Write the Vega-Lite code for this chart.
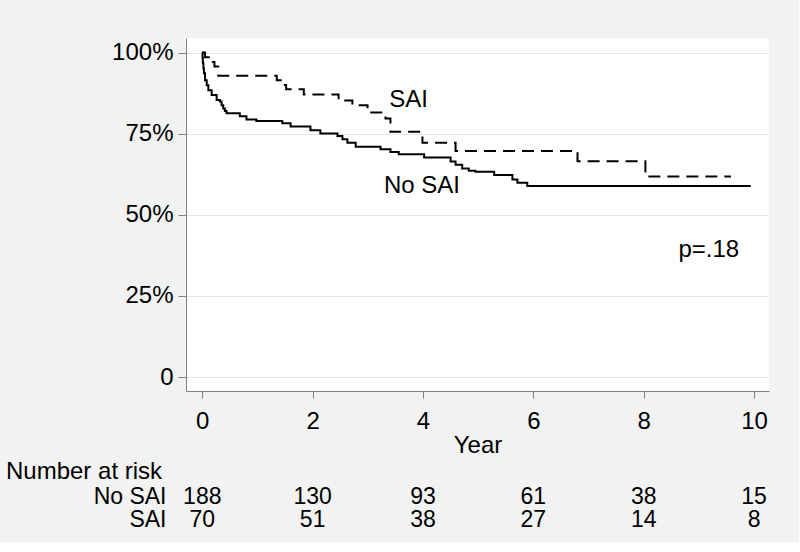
{
  "$schema": "https://vega.github.io/schema/vega-lite/v6.json",
  "background": "#f2f2f2",
  "padding": {"left": 5, "top": 38, "right": 30, "bottom": 10},
  "bounds": "flush",
  "spacing": 94,
  "config": {
    "font": "Liberation Sans",
    "view": {"stroke": null},
    "axis": {"labelFont": "Liberation Sans", "titleFont": "Liberation Sans", "labelColor": "#000", "titleColor": "#000"},
    "text": {"font": "Liberation Sans"}
  },
  "datasets": {
    "curves": [
      {"group": "No SAI", "time": 0, "surv": 1.0},
      {"group": "No SAI", "time": 0.005, "surv": 0.984},
      {"group": "No SAI", "time": 0.01, "surv": 0.968},
      {"group": "No SAI", "time": 0.02, "surv": 0.952},
      {"group": "No SAI", "time": 0.03, "surv": 0.936},
      {"group": "No SAI", "time": 0.05, "surv": 0.915},
      {"group": "No SAI", "time": 0.08, "surv": 0.899},
      {"group": "No SAI", "time": 0.11, "surv": 0.884},
      {"group": "No SAI", "time": 0.17, "surv": 0.869},
      {"group": "No SAI", "time": 0.26, "surv": 0.854},
      {"group": "No SAI", "time": 0.32, "surv": 0.849},
      {"group": "No SAI", "time": 0.35, "surv": 0.838},
      {"group": "No SAI", "time": 0.38, "surv": 0.828},
      {"group": "No SAI", "time": 0.41, "surv": 0.82},
      {"group": "No SAI", "time": 0.44, "surv": 0.813},
      {"group": "No SAI", "time": 0.68, "surv": 0.804},
      {"group": "No SAI", "time": 0.8, "surv": 0.794},
      {"group": "No SAI", "time": 0.98, "surv": 0.789},
      {"group": "No SAI", "time": 1.45, "surv": 0.782},
      {"group": "No SAI", "time": 1.6, "surv": 0.772},
      {"group": "No SAI", "time": 1.96, "surv": 0.761},
      {"group": "No SAI", "time": 2.14, "surv": 0.751},
      {"group": "No SAI", "time": 2.45, "surv": 0.743},
      {"group": "No SAI", "time": 2.54, "surv": 0.733},
      {"group": "No SAI", "time": 2.63, "surv": 0.722},
      {"group": "No SAI", "time": 2.78, "surv": 0.71},
      {"group": "No SAI", "time": 3.23, "surv": 0.702},
      {"group": "No SAI", "time": 3.41, "surv": 0.694},
      {"group": "No SAI", "time": 3.56, "surv": 0.687},
      {"group": "No SAI", "time": 4.02, "surv": 0.677},
      {"group": "No SAI", "time": 4.5, "surv": 0.664},
      {"group": "No SAI", "time": 4.59, "surv": 0.654},
      {"group": "No SAI", "time": 4.71, "surv": 0.643},
      {"group": "No SAI", "time": 4.83, "surv": 0.636},
      {"group": "No SAI", "time": 4.95, "surv": 0.633},
      {"group": "No SAI", "time": 5.29, "surv": 0.623},
      {"group": "No SAI", "time": 5.62, "surv": 0.609},
      {"group": "No SAI", "time": 5.71, "surv": 0.599},
      {"group": "No SAI", "time": 5.89, "surv": 0.589},
      {"group": "No SAI", "time": 9.94, "surv": 0.589},
      {"group": "SAI", "time": 0, "surv": 1.0},
      {"group": "SAI", "time": 0.05, "surv": 0.986},
      {"group": "SAI", "time": 0.17, "surv": 0.971},
      {"group": "SAI", "time": 0.22, "surv": 0.957},
      {"group": "SAI", "time": 0.29, "surv": 0.929},
      {"group": "SAI", "time": 1.35, "surv": 0.915},
      {"group": "SAI", "time": 1.45, "surv": 0.9},
      {"group": "SAI", "time": 1.52, "surv": 0.887},
      {"group": "SAI", "time": 1.84, "surv": 0.871},
      {"group": "SAI", "time": 2.47, "surv": 0.852},
      {"group": "SAI", "time": 2.72, "surv": 0.838},
      {"group": "SAI", "time": 2.995, "surv": 0.815},
      {"group": "SAI", "time": 3.32, "surv": 0.797},
      {"group": "SAI", "time": 3.41, "surv": 0.756},
      {"group": "SAI", "time": 3.99, "surv": 0.722},
      {"group": "SAI", "time": 4.59, "surv": 0.697},
      {"group": "SAI", "time": 6.8, "surv": 0.665},
      {"group": "SAI", "time": 8.03, "surv": 0.618},
      {"group": "SAI", "time": 9.58, "surv": 0.618}
    ],
    "labels": [
      {"label": "SAI", "time": 3.74, "surv": 0.854},
      {"label": "No SAI", "time": 3.98, "surv": 0.589},
      {"label": "p=.18", "time": 9.18, "surv": 0.392}
    ],
    "risk": [
      {"group": "No SAI", "time": 0, "n": 188},
      {"group": "No SAI", "time": 2, "n": 130},
      {"group": "No SAI", "time": 4, "n": 93},
      {"group": "No SAI", "time": 6, "n": 61},
      {"group": "No SAI", "time": 8, "n": 38},
      {"group": "No SAI", "time": 10, "n": 15},
      {"group": "SAI", "time": 0, "n": 70},
      {"group": "SAI", "time": 2, "n": 51},
      {"group": "SAI", "time": 4, "n": 38},
      {"group": "SAI", "time": 6, "n": 27},
      {"group": "SAI", "time": 8, "n": 14},
      {"group": "SAI", "time": 10, "n": 8}
    ]
  },
  "vconcat": [
    {
      "width": 583,
      "height": 353,
      "view": {"fill": "white", "stroke": null},
      "layer": [
        {
          "data": {"name": "curves"},
          "mark": {"type": "line", "interpolate": "step-after", "color": "#000", "strokeWidth": 2, "clip": true},
          "encoding": {
            "x": {
              "field": "time", "type": "quantitative",
              "scale": {"domain": [-0.295, 10.27], "nice": false, "zero": false},
              "axis": {
                "values": [0, 2, 4, 6, 8, 10], "format": "d", "grid": false,
                "title": "Year", "titleFontSize": 24, "titleFontWeight": "normal", "titlePadding": 0,
                "labelFontSize": 24, "labelPadding": 11, "tickSize": 7,
                "tickColor": "#808080", "domainColor": "#808080"
              }
            },
            "y": {
              "field": "surv", "type": "quantitative",
              "scale": {"domain": [-0.043, 1.045], "nice": false, "zero": false},
              "axis": {
                "values": [0, 0.25, 0.5, 0.75, 1],
                "labelExpr": "datum.value == 0 ? '0' : format(datum.value, '.0%')",
                "title": null, "grid": true, "gridColor": "#e6e6e6",
                "labelFontSize": 24, "labelPadding": 5, "tickSize": 8,
                "tickColor": "#808080", "domainColor": "#808080"
              }
            },
            "detail": {"field": "group"},
            "strokeDash": {
              "field": "group", "type": "nominal",
              "scale": {"domain": ["No SAI", "SAI"], "range": [[1, 0], [12, 7]]},
              "legend": null
            }
          }
        },
        {
          "data": {"name": "labels"},
          "mark": {"type": "text", "fontSize": 24, "color": "#000", "align": "center", "baseline": "middle"},
          "encoding": {
            "x": {"field": "time", "type": "quantitative"},
            "y": {"field": "surv", "type": "quantitative"},
            "text": {"field": "label"}
          }
        }
      ]
    },
    {
      "width": 583,
      "height": 46,
      "data": {"name": "risk"},
      "mark": {"type": "text", "fontSize": 23, "color": "#000", "align": "center", "baseline": "middle"},
      "encoding": {
        "x": {
          "field": "time", "type": "quantitative",
          "scale": {"domain": [-0.295, 10.27], "nice": false, "zero": false},
          "axis": null
        },
        "y": {
          "field": "group", "type": "nominal",
          "scale": {"domain": ["No SAI", "SAI"]},
          "axis": {
            "title": "Number at risk", "titleAngle": 0, "titleAlign": "left", "titleBaseline": "middle",
            "titleX": -180.5, "titleY": -13.5, "titleFontSize": 24, "titleFontWeight": "normal",
            "labelFontSize": 23, "labelPadding": 20, "ticks": false, "tickSize": 0, "domain": false
          }
        },
        "text": {"field": "n"}
      }
    }
  ]
}
